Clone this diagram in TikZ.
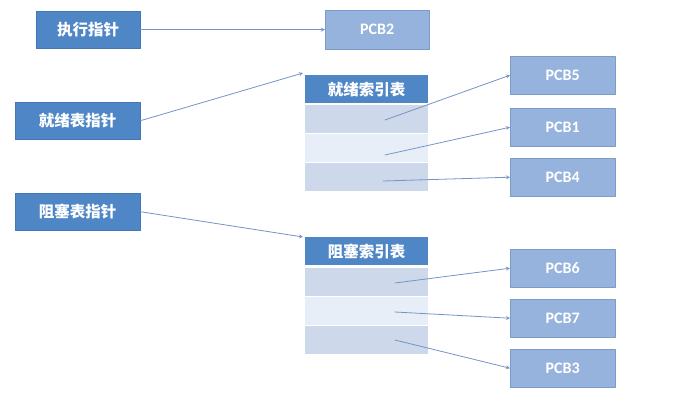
\documentclass[tikz,border=0pt]{standalone}
\usepackage{fontspec}
\newfontfamily\cjk{Noto Sans CJK SC}
\newfontfamily\pcbfont{Carlito}
\definecolor{ptrblue}{HTML}{4F86C6}
\definecolor{ptredge}{HTML}{4475B4}
\definecolor{pcbblue}{HTML}{95B3DC}
\definecolor{pcbedge}{HTML}{7B9CCB}
\definecolor{rowdark}{HTML}{CDD8EA}
\definecolor{rowlight}{HTML}{E8EEF7}
\definecolor{linkblue}{HTML}{7594C6}
\begin{document}
\begin{tikzpicture}[
	x=1pt,y=-1pt,
	>=stealth,
	line cap=round,
	line join=round,
	ptr/.style={draw=ptredge,fill=ptrblue,text=white,anchor=north west,inner sep=0pt,minimum height=37,font=\cjk\bfseries\fontsize{15.5}{15.5}\selectfont},
	pcb/.style={draw=pcbedge,fill=pcbblue,text=white,anchor=north west,inner sep=0pt,minimum width=105,minimum height=38,font=\pcbfont\bfseries\fontsize{16}{16}\selectfont},
	head/.style={fill=ptrblue,text=white,anchor=north west,inner sep=0pt,minimum width=123,minimum height=28,font=\cjk\bfseries\fontsize{15.5}{15.5}\selectfont},
	slot/.style={anchor=north west,inner sep=0pt,minimum width=123,minimum height=28},
	link/.style={->,draw=linkblue,line width=0.8pt}
	]
	\useasboundingbox[fill=white] (0,0) rectangle (697,400);
	% pointers
	\node[ptr,minimum width=104] (exec) at (36,11) {执行指针};
	\node[ptr,minimum width=125] (readyptr) at (15,102) {就绪表指针};
	\node[ptr,minimum width=125] (blockptr) at (15,193) {阻塞表指针};
	\node[pcb,minimum width=104,minimum height=39] (pcb2) at (325,10) {PCB2};
	% ready index table
	\node[head] (readyhead) at (305,75) {就绪索引表};
	\node[slot,fill=rowdark] (ready1) at (305,105) {};
	\node[slot,fill=rowlight] (ready2) at (305,134) {};
	\node[slot,fill=rowdark] (ready3) at (305,163) {};
	% blocked index table
	\node[head] (blockhead) at (305,237) {阻塞索引表};
	\node[slot,fill=rowdark] (block1) at (305,268) {};
	\node[slot,fill=rowlight] (block2) at (305,297) {};
	\node[slot,fill=rowdark] (block3) at (305,326) {};
	% PCBs
	\node[pcb] (pcb5) at (510,56) {PCB5};
	\node[pcb] (pcb1) at (510,108) {PCB1};
	\node[pcb] (pcb4) at (510,158) {PCB4};
	\node[pcb] (pcb6) at (510,249) {PCB6};
	\node[pcb] (pcb7) at (510,299) {PCB7};
	\node[pcb] (pcb3) at (510,349) {PCB3};
	% link starts
	\coordinate (r1) at (385,120);
	\coordinate (r2) at (385,155);
	\coordinate (r3) at (383,181);
	\coordinate (b1) at (395,283);
	\coordinate (b2) at (395,312);
	\coordinate (b3) at (395,340);
	\begin{scope}[link]
		\draw (exec) -- (pcb2);
		\draw (readyptr.east) -- ([shift={(-2,-2)}]readyhead.north west);
		\draw (blockptr.east) -- ([shift={(-2,0)}]blockhead.north west);
		\draw (r1) -- (pcb5.west);
		\draw (r2) -- (pcb1.west);
		\draw (r3) -- (pcb4.west);
		\draw (b1) -- (pcb6.west);
		\draw (b2) -- (pcb7.west);
		\draw (b3) -- (pcb3.west);
	\end{scope}
\end{tikzpicture}
\end{document}
